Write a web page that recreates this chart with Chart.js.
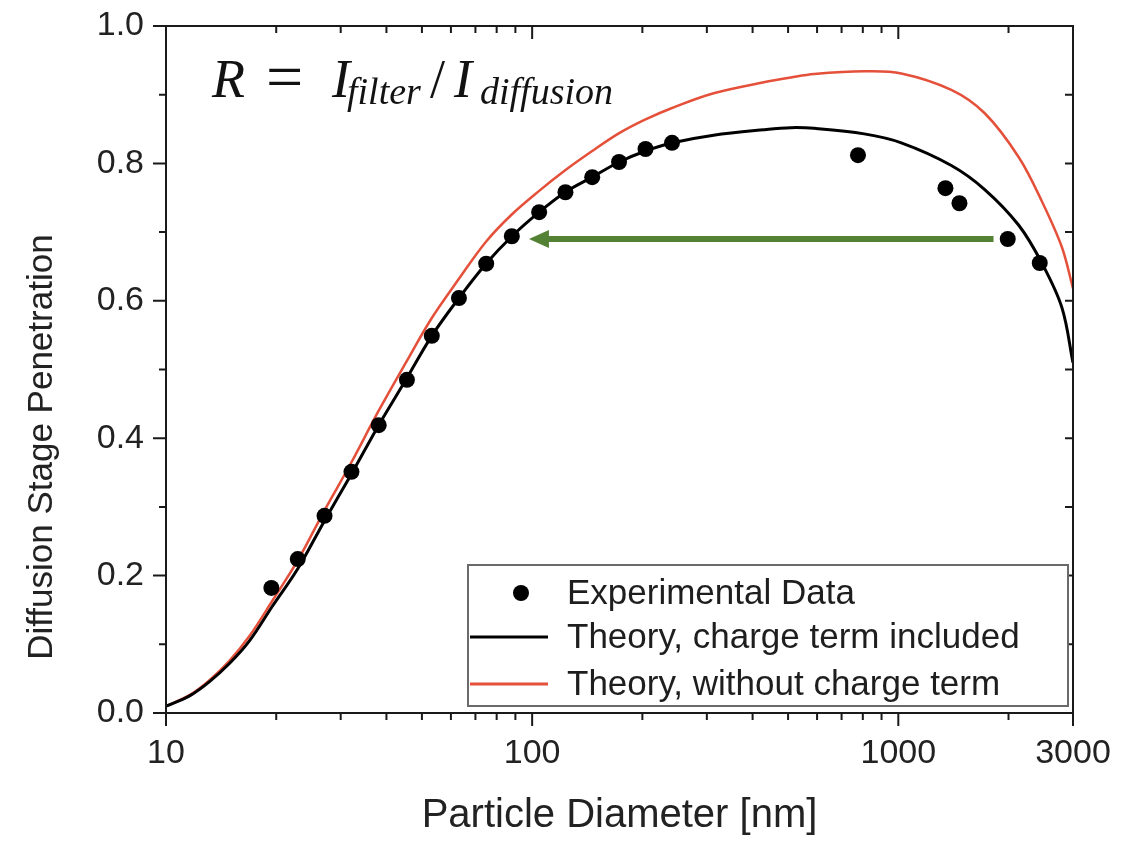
<!DOCTYPE html>
<html lang="en">
<head>
<meta charset="UTF-8">
<title>Diffusion Stage Penetration</title>
<script src="https://cdn.jsdelivr.net/npm/chart.js"></script>
<style>
    html, body { margin: 0; padding: 0; background: #ffffff; }
    #caixa { width: 1134px; height: 841px; }
</style>
</head>
<body>
<div id="caixa">
    <canvas id="grafico" width="1134" height="841"></canvas>
</div>

<script>
// experimental points (diameter in nm, penetration)
const expDiameter = [19.4, 22.9, 27.1, 32.1, 38.1, 45.5, 53.2, 63.1, 74.9, 88.0,
    104.5, 123.3, 145.9, 172.7, 204, 241, 776, 1345, 1469, 1990, 2434];
const expPenetration = [0.182, 0.224, 0.287, 0.351, 0.419, 0.485, 0.549, 0.604, 0.654, 0.694,
    0.729, 0.758, 0.780, 0.802, 0.821, 0.830, 0.812, 0.764, 0.742, 0.690, 0.655];

// theory curves on a common diameter grid
const theoryDiameter = [10, 11.6, 13.1, 14.9, 16.9, 19.5, 22.9, 27.1, 32.1, 38.1,
    45.2, 53.2, 63.1, 74.8, 88.1, 104.5, 123.1, 145.9, 172.9, 204,
    242, 313, 429, 509, 589, 807, 1019, 1396, 1722, 2133,
    2466, 2798, 3000];
const theoryCharge = [0.010, 0.025, 0.045, 0.072, 0.105, 0.155, 0.210, 0.280, 0.348, 0.419,
    0.485, 0.549, 0.604, 0.654, 0.694, 0.729, 0.758, 0.780, 0.802, 0.818,
    0.830, 0.841, 0.849, 0.852, 0.851, 0.843, 0.830, 0.797, 0.762, 0.710,
    0.655, 0.590, 0.510];
const theoryNoCharge = [0.010, 0.026, 0.047, 0.076, 0.112, 0.163, 0.222, 0.295, 0.365, 0.440,
    0.510, 0.575, 0.632, 0.686, 0.726, 0.760, 0.790, 0.818, 0.844, 0.864,
    0.881, 0.902, 0.918, 0.925, 0.930, 0.934, 0.931, 0.907, 0.873, 0.809,
    0.745, 0.678, 0.618];

// axis ticks
const xTickValues = [10, 100, 1000, 3000];
const xMinorValues = [20, 30, 40, 50, 60, 70, 80, 90, 200, 300, 400, 500, 600, 700, 800, 900, 2000];
const yTickValues = [0, 0.2, 0.4, 0.6, 0.8, 1.0];
const yMinorValues = [0.1, 0.3, 0.5, 0.7, 0.9];

const legendLabels = ['Experimental Data', 'Theory, charge term included', 'Theory, without charge term'];

// green arrow (from 1820 nm back to ~98 nm at the same penetration)
const arrowFrom = [1820, 0.69];
const arrowTo = [98, 0.69];

const corVermelha = '#e4503a';
const corSeta = '#548235';
const fonteSans = '"Liberation Sans", Arial, sans-serif';
const fonteSerif = '"Liberation Serif", "Times New Roman", serif';

function pares(xs, ys) {
    return xs.map((v, i) => ({ x: v, y: ys[i] }));
}

// desenha moldura, ticks, seta, legenda e a formula
const decoracao = {
    id: 'decoracao',
    afterDatasetsDraw(chart) {
        const ctx = chart.ctx;
        const a = chart.chartArea;
        const sx = chart.scales.x;
        const sy = chart.scales.y;
        ctx.save();

        // seta verde
        const x0 = sx.getPixelForValue(arrowFrom[0]), y0 = sy.getPixelForValue(arrowFrom[1]);
        const x1 = sx.getPixelForValue(arrowTo[0]), y1 = sy.getPixelForValue(arrowTo[1]);
        ctx.strokeStyle = corSeta;
        ctx.fillStyle = corSeta;
        ctx.lineWidth = 6;
        ctx.beginPath();
        ctx.moveTo(x0, y0);
        ctx.lineTo(x1 + 16, y1);
        ctx.stroke();
        ctx.beginPath();
        ctx.moveTo(x1, y1);
        ctx.lineTo(x1 + 20, y1 - 9);
        ctx.lineTo(x1 + 20, y1 + 9);
        ctx.closePath();
        ctx.fill();

        // moldura
        ctx.strokeStyle = '#1a1a1a';
        ctx.lineWidth = 2;
        ctx.strokeRect(a.left, a.top, a.right - a.left, a.bottom - a.top);

        ctx.beginPath();
        xTickValues.forEach(v => {
            const px = sx.getPixelForValue(v);
            ctx.moveTo(px, a.bottom); ctx.lineTo(px, a.bottom + 13);
            ctx.moveTo(px, a.top); ctx.lineTo(px, a.top + 13);
        });
        xMinorValues.forEach(v => {
            const px = sx.getPixelForValue(v);
            ctx.moveTo(px, a.bottom); ctx.lineTo(px, a.bottom + 7);
            ctx.moveTo(px, a.top); ctx.lineTo(px, a.top + 7);
        });
        yTickValues.forEach(v => {
            const py = sy.getPixelForValue(v);
            ctx.moveTo(a.left - 13, py); ctx.lineTo(a.left, py);
            ctx.moveTo(a.right - 8, py); ctx.lineTo(a.right, py);
        });
        yMinorValues.forEach(v => {
            const py = sy.getPixelForValue(v);
            ctx.moveTo(a.left - 7, py); ctx.lineTo(a.left, py);
            ctx.moveTo(a.right - 8, py); ctx.lineTo(a.right, py);
        });
        ctx.stroke();

        // legenda dentro do grafico
        const lw = 600, lh = 141;
        const lx = a.right - 5 - lw, ly = a.bottom - 7 - lh;
        ctx.fillStyle = '#ffffff';
        ctx.fillRect(lx, ly, lw, lh);
        ctx.strokeStyle = '#6a6a6a';
        ctx.lineWidth = 2;
        ctx.strokeRect(lx, ly, lw, lh);

        const linhas = [ly + 28, ly + 72, ly + 119];
        ctx.fillStyle = '#000';
        ctx.beginPath();
        ctx.arc(lx + 53, linhas[0], 8, 0, Math.PI * 2);
        ctx.fill();
        ctx.lineWidth = 3;
        ctx.strokeStyle = '#000';
        ctx.beginPath(); ctx.moveTo(lx + 2, linhas[1]); ctx.lineTo(lx + 80, linhas[1]); ctx.stroke();
        ctx.strokeStyle = corVermelha;
        ctx.beginPath(); ctx.moveTo(lx + 2, linhas[2]); ctx.lineTo(lx + 80, linhas[2]); ctx.stroke();

        ctx.fillStyle = '#1e1e1e';
        ctx.font = '35px ' + fonteSans;
        ctx.textAlign = 'left';
        ctx.textBaseline = 'middle';
        legendLabels.forEach((t, i) => ctx.fillText(t, lx + 99, linhas[i] + 1));

        // titulo do eixo y (deslocado para baixo como no original)
        ctx.save();
        ctx.translate(a.left - 124, a.top + 0.613 * (a.bottom - a.top));
        ctx.rotate(-Math.PI / 2);
        ctx.font = '35px ' + fonteSans;
        ctx.fillStyle = '#222';
        ctx.textAlign = 'center';
        ctx.textBaseline = 'middle';
        ctx.fillText('Diffusion Stage Penetration', 0, 0);
        ctx.restore();

        // formula R = I_filter / I_diffusion
        ctx.fillStyle = '#ffffff';
        ctx.fillRect(a.left + 6, a.top + 17, 460, 66);
        ctx.fillStyle = '#121212';
        ctx.textAlign = 'left';
        ctx.textBaseline = 'alphabetic';
        const base = a.top + 71, sub = a.top + 78;
        ctx.font = 'italic 54px ' + fonteSerif;
        ctx.fillText('R', a.left + 46, base);
        ctx.font = '66px ' + fonteSerif;
        ctx.fillText('=', a.left + 100, base + 2);
        ctx.font = 'italic 54px ' + fonteSerif;
        ctx.fillText('I', a.left + 166, base);
        ctx.font = 'italic 38px ' + fonteSerif;
        ctx.fillText('filter', a.left + 181, sub);
        ctx.font = '54px ' + fonteSerif;
        ctx.fillText('/', a.left + 264, base);
        ctx.font = 'italic 54px ' + fonteSerif;
        ctx.fillText('I', a.left + 288, base);
        ctx.font = 'italic 38px ' + fonteSerif;
        ctx.fillText('diffusion', a.left + 314, sub);

        ctx.restore();
    }
};

const config = {
    type: 'scatter',
    data: {
        datasets: [
            {
                label: legendLabels[0],
                data: pares(expDiameter, expPenetration),
                showLine: false,
                pointRadius: 8,
                pointBackgroundColor: '#000',
                pointBorderColor: '#000',
                pointBorderWidth: 0
            },
            {
                label: legendLabels[1],
                data: pares(theoryDiameter, theoryCharge),
                showLine: true,
                borderColor: '#000',
                borderWidth: 3,
                pointRadius: 0,
                tension: 0.35
            },
            {
                label: legendLabels[2],
                data: pares(theoryDiameter, theoryNoCharge),
                showLine: true,
                borderColor: corVermelha,
                borderWidth: 2.5,
                pointRadius: 0,
                tension: 0.35
            }
        ]
    },
    options: {
        responsive: false,
        devicePixelRatio: 1,
        animation: false,
        layout: { padding: { top: 26, right: 61, left: 0, bottom: 0 } },
        plugins: {
            legend: { display: false },
            tooltip: { enabled: false }
        },
        scales: {
            x: {
                type: 'logarithmic',
                min: 10,
                max: 3000,
                afterBuildTicks: s => { s.ticks = xTickValues.map(v => ({ value: v })); },
                afterFit: s => { s.height = 128; s.paddingLeft = 0; s.paddingRight = 0; },
                ticks: {
                    autoSkip: false,
                    maxRotation: 0,
                    padding: 20,
                    color: '#222',
                    font: { family: fonteSans, size: 34 },
                    callback: v => String(v)
                },
                grid: { display: false, drawTicks: false },
                border: { display: false },
                title: {
                    display: true,
                    text: 'Particle Diameter [nm]',
                    color: '#222',
                    font: { family: fonteSans, size: 40 },
                    padding: { top: 4, bottom: 1 }
                }
            },
            y: {
                min: 0,
                max: 1,
                afterBuildTicks: s => { s.ticks = yTickValues.map(v => ({ value: v })); },
                afterFit: s => { s.width = 166; s.paddingTop = 0; s.paddingBottom = 0; },
                ticks: {
                    padding: 22,
                    color: '#222',
                    font: { family: fonteSans, size: 34 },
                    callback: v => v.toFixed(1)
                },
                grid: { display: false, drawTicks: false },
                border: { display: false }
            }
        }
    },
    plugins: [decoracao]
};

new Chart(document.getElementById('grafico'), config);
</script>
</body>
</html>
